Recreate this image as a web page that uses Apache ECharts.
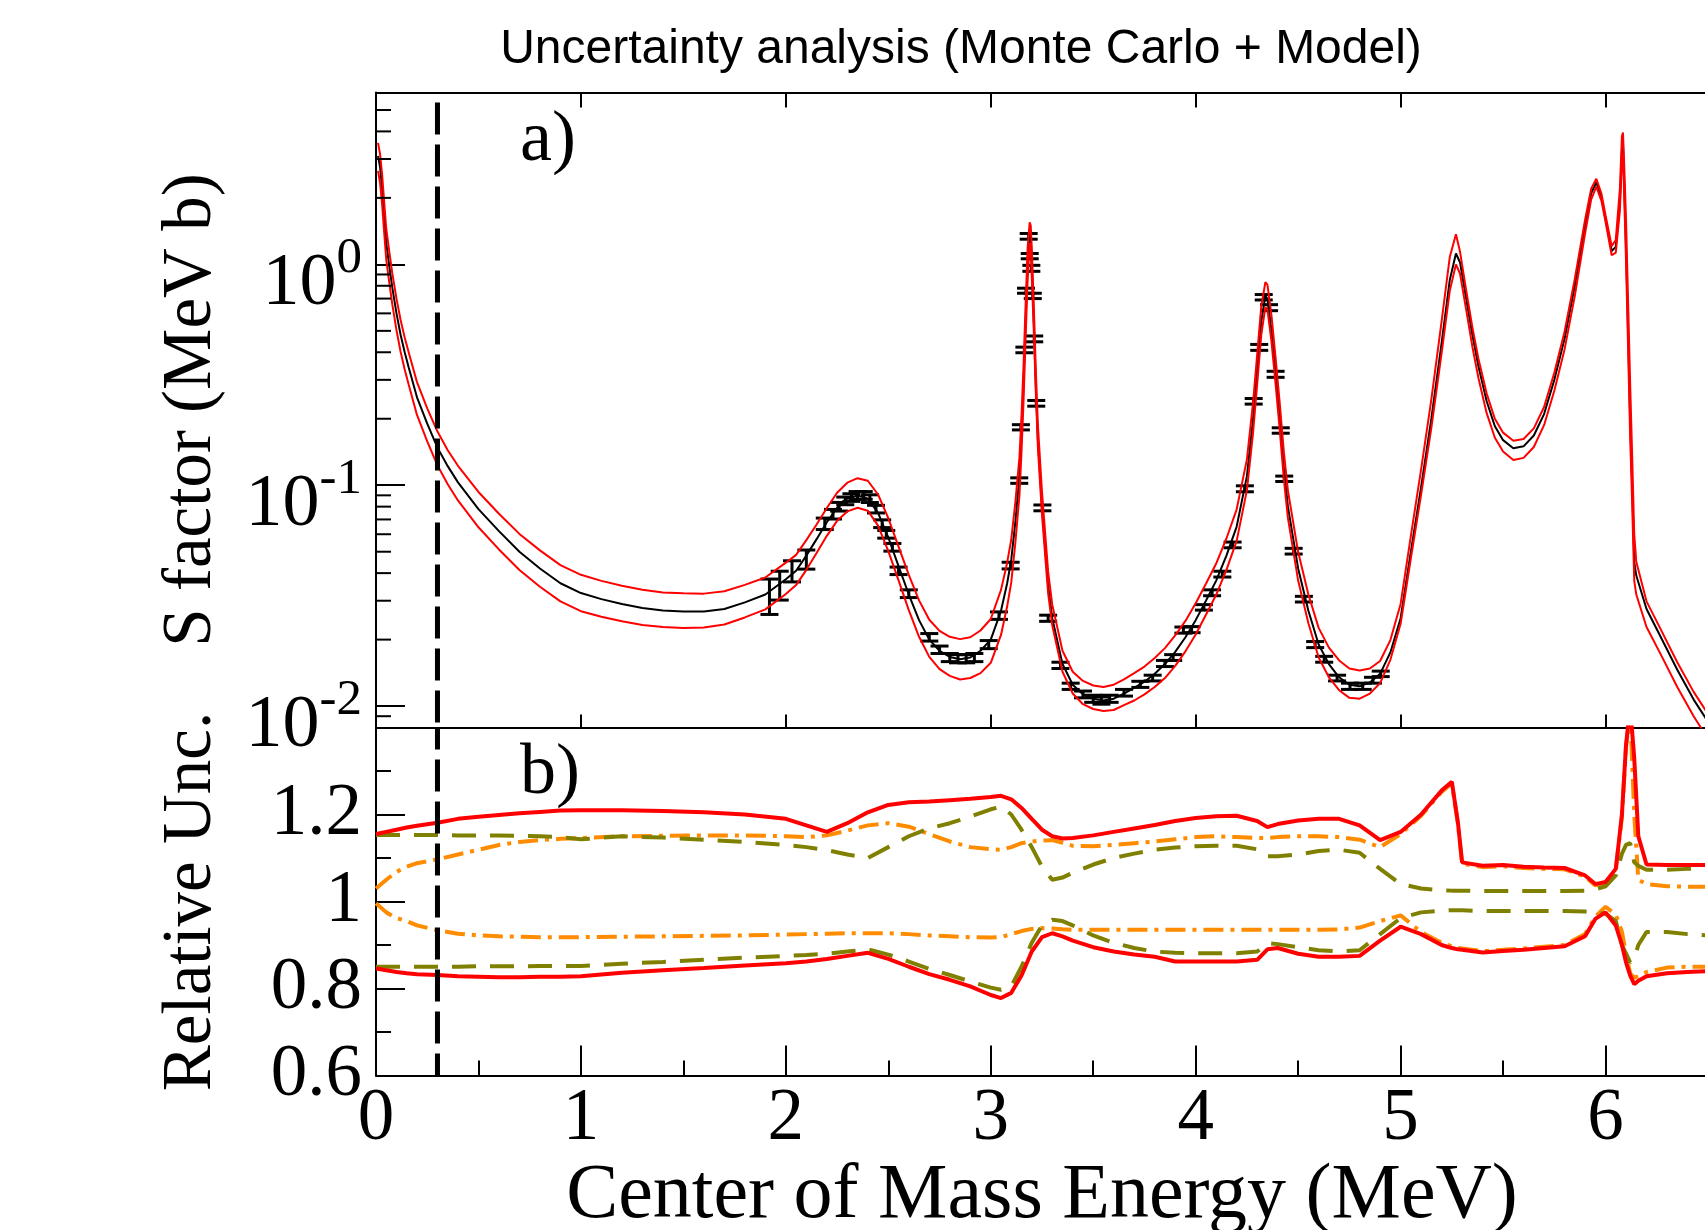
<!DOCTYPE html>
<html>
<head>
<meta charset="utf-8">
<script src="https://cdn.jsdelivr.net/npm/echarts@6/dist/echarts.min.js"></script>
<style>
html,body{margin:0;padding:0;background:#fff;}
#chart{width:1705px;height:1230px;}
</style>
</head>
<body>
<div id="chart"></div>
<script>
// ---------- Top panel: S factor model (central) and its uncertainty band ----------
const modelE = [0.01,0.02,0.03,0.04,0.05,0.065,0.08,0.1,0.12,0.14,0.16,0.2,0.25,0.3,0.35,0.4,0.5,0.6,0.7,0.8,0.9,1.0,1.1,1.2,1.3,1.4,1.5,1.6,1.7,1.8,1.9,2.0,2.05,2.1,2.15,2.2,2.25,2.3,2.35,2.4,2.45,2.5,2.55,2.6,2.65,2.7,2.75,2.8,2.85,2.9,2.95,3.0,3.05,3.08,3.1,3.12,3.14,3.15,3.16,3.17,3.18,3.19,3.195,3.2,3.21,3.22,3.23,3.25,3.28,3.3,3.35,3.4,3.45,3.5,3.55,3.6,3.65,3.7,3.75,3.8,3.85,3.9,3.95,4.0,4.05,4.1,4.15,4.2,4.25,4.28,4.3,4.32,4.34,4.35,4.37,4.39,4.41,4.43,4.45,4.5,4.55,4.6,4.65,4.7,4.75,4.8,4.85,4.9,4.95,5.0,5.05,5.1,5.15,5.2,5.24,5.27,5.29,5.32,5.35,5.38,5.42,5.46,5.5,5.55,5.6,5.65,5.7,5.75,5.8,5.85,5.9,5.93,5.955,5.98,6.0,6.03,6.05,6.07,6.08,6.085,6.09,6.1,6.11,6.12,6.13,6.14,6.15,6.2,6.27,6.35,6.43,6.5];
const modelS = [3.1,2.75,2.2,1.65,1.25,0.98,0.78,0.6,0.48,0.4,0.34,0.25,0.19,0.148,0.122,0.103,0.078,0.062,0.05,0.042,0.036,0.0325,0.0305,0.029,0.0278,0.0271,0.0268,0.0268,0.0275,0.0295,0.032,0.0375,0.041,0.048,0.057,0.068,0.079,0.087,0.09,0.087,0.075,0.058,0.043,0.032,0.0245,0.02,0.0178,0.0167,0.0163,0.0166,0.0178,0.02,0.027,0.036,0.046,0.068,0.11,0.17,0.29,0.55,1.0,1.4,1.35,1.0,0.55,0.28,0.16,0.08,0.035,0.025,0.0155,0.0125,0.0113,0.0108,0.0106,0.0108,0.0114,0.0121,0.0129,0.014,0.0155,0.0176,0.0205,0.0245,0.03,0.037,0.048,0.065,0.11,0.2,0.33,0.55,0.72,0.7,0.5,0.32,0.2,0.12,0.08,0.042,0.027,0.019,0.0155,0.0135,0.0125,0.0123,0.0128,0.014,0.0175,0.025,0.05,0.098,0.2,0.44,0.85,1.12,1.02,0.7,0.48,0.345,0.24,0.185,0.16,0.147,0.15,0.168,0.21,0.3,0.46,0.8,1.5,2.1,2.35,2.0,1.6,1.15,1.2,1.9,3.3,3.6,2.5,1.2,0.5,0.2,0.1,0.045,0.039,0.0275,0.0205,0.0146,0.0107,0.0085];
const modelUpper = [3.55,3.15,2.54,1.91,1.45,1.14,0.905,0.7,0.56,0.467,0.398,0.293,0.223,0.175,0.144,0.1225,0.0932,0.0743,0.0602,0.0507,0.0435,0.0393,0.0369,0.0351,0.0336,0.0327,0.0324,0.0323,0.0331,0.0354,0.0382,0.0446,0.0484,0.0564,0.0664,0.0789,0.0925,0.1027,0.1076,0.1048,0.0908,0.0709,0.0527,0.0393,0.0301,0.0246,0.0219,0.0206,0.0201,0.0205,0.022,0.0248,0.0336,0.0446,0.0568,0.0836,0.134,0.207,0.35,0.66,1.19,1.55,1.5,1.19,0.65,0.328,0.187,0.093,0.0405,0.0288,0.0178,0.0143,0.013,0.0124,0.0122,0.0125,0.0132,0.0141,0.0151,0.0165,0.0183,0.0209,0.0243,0.0292,0.0358,0.0442,0.0574,0.0778,0.131,0.237,0.39,0.645,0.83,0.81,0.585,0.376,0.236,0.142,0.0946,0.0498,0.032,0.0226,0.0184,0.0161,0.0148,0.0145,0.0148,0.016,0.0199,0.029,0.059,0.118,0.245,0.552,1.08,1.37,1.14,0.762,0.52,0.373,0.26,0.2,0.173,0.159,0.162,0.181,0.226,0.323,0.496,0.86,1.59,2.2,2.44,2.09,1.67,1.21,1.29,2.2,3.8,3.95,3.0,1.6,0.68,0.29,0.135,0.06,0.045,0.0298,0.0222,0.0158,0.0116,0.0092];
const modelLower = [2.65,2.33,1.86,1.39,1.05,0.825,0.655,0.503,0.402,0.334,0.284,0.208,0.158,0.123,0.101,0.0853,0.0645,0.0512,0.0413,0.0347,0.0298,0.0269,0.0254,0.0242,0.0233,0.0228,0.0226,0.0227,0.0234,0.0252,0.0274,0.0322,0.0353,0.0414,0.0493,0.059,0.069,0.0761,0.0791,0.0767,0.0656,0.0503,0.0371,0.0272,0.0206,0.0167,0.0147,0.0137,0.0132,0.0134,0.0141,0.0157,0.021,0.0283,0.0363,0.0549,0.0902,0.141,0.242,0.465,0.86,1.25,1.2,0.885,0.5,0.26,0.148,0.0734,0.0324,0.0232,0.0143,0.0114,0.0102,0.0097,0.0095,0.0096,0.0101,0.0106,0.0113,0.0122,0.0134,0.0152,0.0177,0.0211,0.0259,0.0319,0.0414,0.056,0.095,0.173,0.286,0.48,0.64,0.625,0.446,0.286,0.179,0.107,0.0711,0.037,0.0237,0.0166,0.0135,0.0118,0.0109,0.0108,0.0114,0.0127,0.0162,0.0236,0.0467,0.0907,0.182,0.396,0.76,1.0,0.907,0.622,0.425,0.305,0.212,0.164,0.142,0.13,0.133,0.149,0.187,0.268,0.412,0.72,1.38,1.97,2.25,1.94,1.56,1.1,1.13,1.75,3.0,3.2,2.2,1.03,0.42,0.167,0.082,0.037,0.032,0.0228,0.0171,0.0122,0.009,0.0071];

// experimental points with y error bars
const dataE = [1.92,1.97,2.03,2.10,2.19,2.23,2.26,2.29,2.32,2.35,2.38,2.41,2.44,2.47,2.49,2.52,2.55,2.60,2.70,2.75,2.80,2.84,2.88,2.92,2.99,3.04,3.097,3.139,3.147,3.164,3.172,3.185,3.19,3.198,3.205,3.212,3.222,3.252,3.28,3.34,3.39,3.45,3.50,3.54,3.58,3.65,3.73,3.79,3.85,3.89,3.94,3.98,4.04,4.08,4.13,4.18,4.24,4.283,4.31,4.332,4.358,4.39,4.415,4.432,4.478,4.528,4.583,4.627,4.69,4.753,4.815,4.865,4.903];
const dataS = [0.0318,0.0355,0.041,0.0463,0.067,0.074,0.08,0.085,0.088,0.09,0.09,0.087,0.078,0.067,0.06,0.0524,0.041,0.0323,0.0205,0.018,0.0166,0.0164,0.0164,0.0166,0.019,0.0257,0.0433,0.105,0.183,0.41,0.76,1.34,1.09,0.96,0.72,0.46,0.235,0.079,0.025,0.0153,0.0123,0.0113,0.0108,0.0106,0.0108,0.0115,0.01255,0.0134,0.0156,0.0166,0.0221,0.0222,0.028,0.0326,0.0396,0.0537,0.0964,0.24,0.421,0.71,0.637,0.318,0.177,0.107,0.0503,0.0305,0.019,0.0163,0.0134,0.0123,0.0123,0.0131,0.014];
const dataErr = [0.0058,0.0053,0.0045,0.0046,0.004,0.0037,0.0036,0.0034,0.0035,0.0036,0.0036,0.0035,0.0031,0.0027,0.0024,0.0021,0.0016,0.0013,0.0008,0.0007,0.0007,0.0007,0.0007,0.0007,0.0008,0.001,0.0015,0.003,0.005,0.012,0.02,0.04,0.03,0.03,0.02,0.014,0.007,0.0024,0.0008,0.0005,0.0004,0.0004,0.0004,0.0004,0.0004,0.0004,0.0004,0.0004,0.0005,0.0005,0.0007,0.0007,0.0008,0.001,0.0012,0.0016,0.003,0.007,0.013,0.02,0.02,0.01,0.005,0.003,0.0015,0.0009,0.0006,0.0005,0.0004,0.0004,0.0004,0.0004,0.0004];

// ---------- Bottom panel: relative uncertainties ----------
const ratioE = [0,0.05,0.1,0.15,0.2,0.3,0.4,0.5,0.6,0.7,0.8,0.9,1.0,1.2,1.4,1.6,1.8,2.0,2.1,2.2,2.3,2.4,2.5,2.6,2.7,2.8,2.9,3.0,3.05,3.1,3.15,3.2,3.25,3.3,3.35,3.4,3.5,3.6,3.7,3.8,3.9,4.0,4.1,4.2,4.3,4.35,4.4,4.5,4.6,4.7,4.8,4.9,5.0,5.1,5.2,5.25,5.28,5.3,5.4,5.5,5.6,5.7,5.8,5.9,5.95,6.0,6.05,6.08,6.1,6.12,6.14,6.16,6.2,6.3,6.4,6.5];
const totalUp = [1.155,1.16,1.165,1.17,1.174,1.181,1.19,1.195,1.199,1.203,1.206,1.209,1.21,1.21,1.208,1.205,1.2,1.19,1.175,1.16,1.18,1.205,1.222,1.228,1.23,1.233,1.236,1.24,1.243,1.235,1.215,1.19,1.165,1.15,1.145,1.146,1.152,1.16,1.168,1.176,1.185,1.192,1.196,1.197,1.185,1.171,1.178,1.186,1.19,1.19,1.175,1.141,1.16,1.2,1.255,1.275,1.18,1.09,1.082,1.084,1.08,1.078,1.077,1.06,1.04,1.045,1.075,1.2,1.36,1.45,1.33,1.15,1.085,1.084,1.084,1.084];
const totalLo = [0.846,0.842,0.838,0.835,0.833,0.831,0.828,0.827,0.826,0.826,0.827,0.827,0.828,0.836,0.842,0.847,0.853,0.858,0.862,0.868,0.875,0.882,0.868,0.85,0.833,0.82,0.805,0.785,0.778,0.79,0.83,0.885,0.918,0.927,0.92,0.91,0.895,0.885,0.878,0.873,0.862,0.862,0.862,0.862,0.866,0.89,0.893,0.88,0.873,0.873,0.875,0.91,0.942,0.925,0.9,0.893,0.89,0.889,0.883,0.886,0.889,0.893,0.897,0.92,0.96,0.975,0.945,0.9,0.86,0.83,0.81,0.818,0.828,0.835,0.838,0.84];
const oliveUp = [1.153,1.153,1.153,1.153,1.153,1.153,1.152,1.152,1.152,1.151,1.15,1.148,1.143,1.15,1.147,1.142,1.137,1.13,1.125,1.118,1.108,1.1,1.125,1.15,1.168,1.18,1.195,1.212,1.218,1.2,1.165,1.125,1.08,1.05,1.055,1.066,1.085,1.1,1.11,1.119,1.124,1.127,1.128,1.128,1.12,1.104,1.104,1.108,1.116,1.119,1.112,1.075,1.04,1.03,1.026,1.025,1.025,1.025,1.024,1.024,1.024,1.024,1.024,1.025,1.028,1.035,1.06,1.11,1.13,1.134,1.09,1.082,1.073,1.073,1.075,1.077];
const oliveLo = [0.85,0.85,0.85,0.85,0.85,0.85,0.85,0.851,0.851,0.851,0.852,0.852,0.852,0.857,0.861,0.866,0.871,0.875,0.877,0.88,0.885,0.89,0.878,0.862,0.845,0.831,0.816,0.802,0.797,0.805,0.85,0.905,0.945,0.958,0.955,0.945,0.922,0.905,0.893,0.885,0.882,0.881,0.881,0.881,0.885,0.904,0.902,0.895,0.888,0.885,0.888,0.925,0.962,0.975,0.979,0.98,0.98,0.98,0.978,0.978,0.978,0.978,0.978,0.977,0.975,0.972,0.955,0.9,0.88,0.86,0.87,0.9,0.93,0.93,0.925,0.922];
const orangeUp = [1.03,1.05,1.068,1.08,1.088,1.097,1.108,1.119,1.13,1.137,1.141,1.144,1.146,1.15,1.151,1.152,1.152,1.15,1.148,1.152,1.163,1.175,1.18,1.172,1.155,1.138,1.125,1.12,1.119,1.125,1.134,1.138,1.14,1.141,1.135,1.128,1.127,1.13,1.134,1.138,1.143,1.148,1.15,1.148,1.146,1.146,1.148,1.15,1.15,1.148,1.142,1.125,1.155,1.197,1.252,1.272,1.178,1.087,1.079,1.081,1.077,1.075,1.074,1.057,1.037,1.042,1.072,1.195,1.355,1.44,1.2,1.05,1.04,1.035,1.034,1.034];
const orangeLo = [0.996,0.975,0.962,0.955,0.945,0.934,0.926,0.922,0.92,0.919,0.918,0.918,0.918,0.919,0.92,0.921,0.922,0.924,0.925,0.926,0.927,0.927,0.927,0.925,0.922,0.92,0.918,0.917,0.918,0.925,0.932,0.937,0.939,0.938,0.936,0.935,0.935,0.935,0.935,0.935,0.935,0.935,0.935,0.935,0.935,0.935,0.935,0.935,0.935,0.936,0.94,0.955,0.968,0.93,0.905,0.897,0.893,0.892,0.886,0.889,0.892,0.896,0.9,0.925,0.965,0.988,0.97,0.93,0.88,0.835,0.825,0.828,0.838,0.848,0.85,0.85];

// axis definitions
const xTicksLabels = [0,1,2,3,4,5,6];
const logMinorTicks = [0.009,0.02,0.03,0.04,0.05,0.06,0.07,0.08,0.09,0.2,0.3,0.4,0.5,0.6,0.7,0.8,0.9,2,3,4,5];
const thresholdE = 0.3;

const SERIF = '"Liberation Serif","Times New Roman",serif';
const SANS = '"Liberation Sans",Arial,sans-serif';
const BLACK = '#000';
const RED = '#ff0000';
const OLIVE = '#808000';
const ORANGE = '#ff8c00';

const pair = (xs, ys) => xs.map((x, i) => [x, ys[i]]);

const chart = echarts.init(document.getElementById('chart'), null, {renderer: 'canvas'});

const axisLineStyle = {color: BLACK, width: 2};
const option = {
  animation: false,
  backgroundColor: '#fff',
  grid: [
    {left: 376, top: 92.5, width: 1332, height: 635, containLabel: false, outerBoundsMode: 'none'},
    {left: 376, top: 727.5, width: 1332, height: 348, containLabel: false, outerBoundsMode: 'none'}
  ],
  xAxis: [
    {gridIndex: 0, type: 'value', min: 0, max: 6.5, interval: 1, position: 'bottom',
     axisLine: {show: true, onZero: false, lineStyle: axisLineStyle},
     axisTick: {show: true, inside: true, length: 13, lineStyle: axisLineStyle},
     axisLabel: {show: false}, splitLine: {show: false}},
    {gridIndex: 0, type: 'value', min: 0, max: 6.5, interval: 1, position: 'top',
     axisLine: {show: true, onZero: false, lineStyle: axisLineStyle},
     axisTick: {show: true, inside: true, length: 15, lineStyle: axisLineStyle},
     axisLabel: {show: false}, splitLine: {show: false}},
    {gridIndex: 1, type: 'value', min: 0, max: 6.5, interval: 1, position: 'bottom',
     axisLine: {show: true, onZero: false, lineStyle: axisLineStyle},
     axisTick: {show: true, inside: true, length: 30, lineStyle: axisLineStyle},
     minorTick: {show: true, splitNumber: 2, length: 15, lineStyle: axisLineStyle},
     axisLabel: {show: true, margin: 8, fontSize: 73, lineHeight: 73, fontFamily: SERIF, color: BLACK,
                 showMaxLabel: false,
                 formatter: v => (xTicksLabels.indexOf(Math.round(v)) >= 0 && Math.abs(v - Math.round(v)) < 1e-9) ? String(Math.round(v)) : ''},
     splitLine: {show: false}, minorSplitLine: {show: false},
     name: 'Center of Mass Energy (MeV)', nameLocation: 'middle', nameGap: 75,
     nameTextStyle: {fontSize: 78, lineHeight: 78, fontFamily: SERIF, color: BLACK}}
  ],
  yAxis: [
    {gridIndex: 0, type: 'log', logBase: 10, min: 0.008, max: 6,
     axisLine: {show: true, onZero: false, lineStyle: axisLineStyle},
     axisTick: {show: true, inside: true, length: 29, lineStyle: axisLineStyle},
     splitLine: {show: false},
     axisLabel: {show: true, margin: 14, showMinLabel: false, showMaxLabel: false, color: BLACK,
                 fontFamily: SERIF, fontSize: 74,
                 formatter: v => '{b|10}{s|' + Math.round(Math.log10(v)) + '}',
                 rich: {
                   b: {fontSize: 74, lineHeight: 74, fontFamily: SERIF, color: BLACK, padding: [40, 0, 0, 0]},
                   s: {fontSize: 51, lineHeight: 51, fontFamily: SERIF, color: BLACK, verticalAlign: 'top', padding: [6, 0, 0, 0]}
                 }},
     name: 'S factor (MeV b)', nameLocation: 'middle', nameGap: 150,
     nameTextStyle: {fontSize: 69, lineHeight: 69, fontFamily: SERIF, color: BLACK}},
    {gridIndex: 1, type: 'value', min: 0.6, max: 1.4, interval: 0.2,
     axisLine: {show: true, onZero: false, lineStyle: axisLineStyle},
     axisTick: {show: true, inside: true, length: 29, lineStyle: axisLineStyle},
     minorTick: {show: true, splitNumber: 2, length: 15, lineStyle: axisLineStyle},
     splitLine: {show: false}, minorSplitLine: {show: false},
     axisLabel: {show: true, margin: 14, showMaxLabel: false, fontSize: 73, lineHeight: 73,
                 fontFamily: SERIF, color: BLACK,
                 formatter: v => Math.abs(v - 1) < 1e-9 ? '1' : v.toFixed(1)},
     name: 'Relative Unc.', nameLocation: 'middle', nameGap: 150,
     nameTextStyle: {fontSize: 69, lineHeight: 69, fontFamily: SERIF, color: BLACK}}
  ],
  graphic: [
    {type: 'text', z: 100, silent: true,
     style: {text: 'Uncertainty analysis (Monte Carlo + Model)', x: 961, y: 50, font: '48px ' + SANS,
             fill: BLACK, textAlign: 'center', textVerticalAlign: 'middle'}},
    {type: 'text', z: 100, silent: true,
     style: {text: 'a)', x: 520, y: 141, font: '72px ' + SERIF, fill: BLACK, textAlign: 'left', textVerticalAlign: 'middle'}},
    {type: 'text', z: 100, silent: true,
     style: {text: 'b)', x: 520, y: 774, font: '72px ' + SERIF, fill: BLACK, textAlign: 'left', textVerticalAlign: 'middle'}}
  ],
  series: [
    // minor ticks of the log axis (placed through the axis scale)
    {type: 'custom', name: 'logMinor', xAxisIndex: 0, yAxisIndex: 0, silent: true, clip: false, z: 5,
     data: logMinorTicks.map(v => [0, v]),
     renderItem: (params, api) => {
       const p = api.coord([0, api.value(1)]);
       return {type: 'line', shape: {x1: p[0], y1: p[1], x2: p[0] + 15, y2: p[1]},
               style: {stroke: BLACK, lineWidth: 2}};
     }},
    {type: 'line', name: 'model', xAxisIndex: 0, yAxisIndex: 0, data: pair(modelE, modelS),
     showSymbol: false, symbol: 'none', lineStyle: {color: BLACK, width: 2}, z: 2},
    {type: 'custom', name: 'data', xAxisIndex: 0, yAxisIndex: 0, z: 3,
     data: dataE.map((e, i) => [e, dataS[i], dataS[i] - dataErr[i], dataS[i] + dataErr[i]]),
     encode: {x: 0, y: [1, 2, 3]},
     renderItem: (params, api) => {
       const x = api.value(0);
       const lo = api.coord([x, api.value(2)]);
       const hi = api.coord([x, api.value(3)]);
       const w = 9;
       const st = {stroke: BLACK, lineWidth: 3};
       return {type: 'group', children: [
         {type: 'line', shape: {x1: hi[0], y1: hi[1], x2: lo[0], y2: lo[1]}, style: st},
         {type: 'line', shape: {x1: hi[0] - w, y1: hi[1], x2: hi[0] + w, y2: hi[1]}, style: st},
         {type: 'line', shape: {x1: lo[0] - w, y1: lo[1], x2: lo[0] + w, y2: lo[1]}, style: st}
       ]};
     }},
    {type: 'line', name: 'upper', xAxisIndex: 0, yAxisIndex: 0, data: pair(modelE, modelUpper),
     showSymbol: false, symbol: 'none', lineStyle: {color: RED, width: 2}, z: 4},
    {type: 'line', name: 'lower', xAxisIndex: 0, yAxisIndex: 0, data: pair(modelE, modelLower),
     showSymbol: false, symbol: 'none', lineStyle: {color: RED, width: 2}, z: 4},
    {type: 'line', name: 'thrTop', xAxisIndex: 0, yAxisIndex: 0, data: [[thresholdE, 6], [thresholdE, 0.008]],
     showSymbol: false, symbol: 'none', lineStyle: {color: BLACK, width: 5, type: [32, 10], dashOffset: 32}, z: 6},

    // bottom panel
    {type: 'line', name: 'orangeUp', xAxisIndex: 2, yAxisIndex: 1, data: pair(ratioE, orangeUp),
     showSymbol: false, symbol: 'none', lineStyle: {color: ORANGE, width: 4, type: [20, 7, 4, 7]}, z: 2},
    {type: 'line', name: 'orangeLo', xAxisIndex: 2, yAxisIndex: 1, data: pair(ratioE, orangeLo),
     showSymbol: false, symbol: 'none', lineStyle: {color: ORANGE, width: 4, type: [20, 7, 4, 7]}, z: 2},
    {type: 'line', name: 'oliveUp', xAxisIndex: 2, yAxisIndex: 1, data: pair(ratioE, oliveUp),
     showSymbol: false, symbol: 'none', lineStyle: {color: OLIVE, width: 4, type: [24, 14]}, z: 3},
    {type: 'line', name: 'oliveLo', xAxisIndex: 2, yAxisIndex: 1, data: pair(ratioE, oliveLo),
     showSymbol: false, symbol: 'none', lineStyle: {color: OLIVE, width: 4, type: [24, 14]}, z: 3},
    {type: 'line', name: 'totalUp', xAxisIndex: 2, yAxisIndex: 1, data: pair(ratioE, totalUp),
     showSymbol: false, symbol: 'none', lineStyle: {color: RED, width: 4}, z: 4},
    {type: 'line', name: 'totalLo', xAxisIndex: 2, yAxisIndex: 1, data: pair(ratioE, totalLo),
     showSymbol: false, symbol: 'none', lineStyle: {color: RED, width: 4}, z: 4},
    {type: 'line', name: 'thrBottom', xAxisIndex: 2, yAxisIndex: 1, data: [[thresholdE, 1.4], [thresholdE, 0.6]],
     showSymbol: false, symbol: 'none', lineStyle: {color: BLACK, width: 5, type: [32, 10], dashOffset: 10}, z: 6}
  ]
};
chart.setOption(option);
</script>
</body>
</html>
